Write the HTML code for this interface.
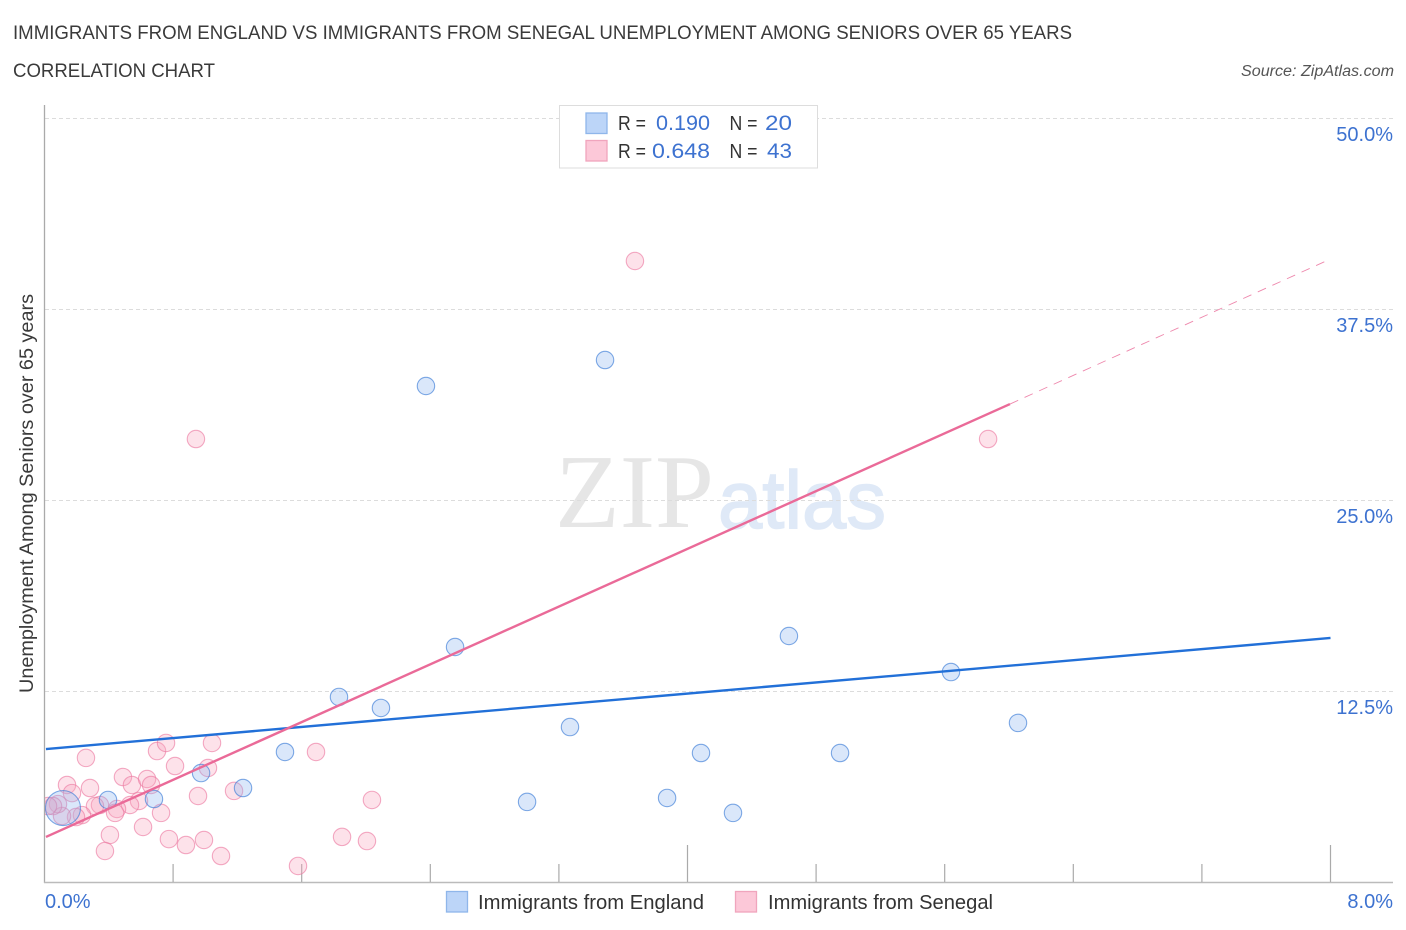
<!DOCTYPE html>
<html lang="en">
<head>
<meta charset="utf-8">
<title>Immigrants from England vs Immigrants from Senegal Unemployment Among Seniors over 65 years</title>
<style>
html,body{margin:0;padding:0;background:#fff;width:1406px;height:930px;overflow:hidden}
svg{display:block;font-family:"Liberation Sans",sans-serif}
</style>
</head>
<body>
<svg id="chart" width="1406" height="930" viewBox="0 0 1406 930" xmlns="http://www.w3.org/2000/svg">
  <defs>
    <clipPath id="plot-clip"><rect x="45" y="100" width="1350" height="782"/></clipPath>
  </defs>
  <text x="13" y="39" font-size="19" fill="#3a3a3a" textLength="1059" lengthAdjust="spacingAndGlyphs">IMMIGRANTS FROM ENGLAND VS IMMIGRANTS FROM SENEGAL UNEMPLOYMENT AMONG SENIORS OVER 65 YEARS</text>
  <text x="13" y="77" font-size="19" fill="#3a3a3a" textLength="202" lengthAdjust="spacingAndGlyphs">CORRELATION CHART</text>
  <text x="1394" y="76" font-size="15.5" font-style="italic" fill="#555" text-anchor="end" textLength="153" lengthAdjust="spacingAndGlyphs">Source: ZipAtlas.com</text>

  <g>
    <text x="555" y="527" font-family="'Liberation Serif',serif" font-size="105" fill="#e6e6e6" textLength="159" lengthAdjust="spacingAndGlyphs">ZIP</text>
    <text x="718" y="528" font-family="'Liberation Sans',sans-serif" font-size="82" fill="#dfe9f7" stroke="#dfe9f7" stroke-width="1.5" textLength="168" lengthAdjust="spacingAndGlyphs">atlas</text>
  </g>

  <g id="grid"></g>
  <g id="axes"></g>
  <g clip-path="url(#plot-clip)">
    <g id="senegal-points"></g>
    <g id="england-points"></g>
  </g>
  <g id="trends"></g>

  <text transform="translate(33,493.5) rotate(-90)" font-size="19" fill="#3a3a3a" text-anchor="middle" textLength="399" lengthAdjust="spacingAndGlyphs">Unemployment Among Seniors over 65 years</text>

  <g>
    <rect x="559.5" y="105.5" width="258" height="62.5" fill="#fff" stroke="#ddd" stroke-width="1"/>
    <rect x="586" y="113" width="21" height="20.5" fill="#bcd5f8" stroke="#8fb6ea" stroke-width="1.3"/>
    <rect x="586" y="140.5" width="21" height="20.5" fill="#fcc8d8" stroke="#f0a5bd" stroke-width="1.3"/>
    <text x="618" y="130" font-size="20" fill="#333" textLength="28" lengthAdjust="spacingAndGlyphs">R =</text>
    <text x="656" y="130" font-size="21" fill="#3d72d0" textLength="54" lengthAdjust="spacingAndGlyphs">0.190</text>
    <text x="729.5" y="130" font-size="20" fill="#333" textLength="28" lengthAdjust="spacingAndGlyphs">N =</text>
    <text x="765" y="130" font-size="21" fill="#3d72d0" textLength="27" lengthAdjust="spacingAndGlyphs">20</text>
    <text x="618" y="158" font-size="20" fill="#333" textLength="28" lengthAdjust="spacingAndGlyphs">R =</text>
    <text x="652" y="158" font-size="21" fill="#3d72d0" textLength="58" lengthAdjust="spacingAndGlyphs">0.648</text>
    <text x="729.5" y="158" font-size="20" fill="#333" textLength="28" lengthAdjust="spacingAndGlyphs">N =</text>
    <text x="767" y="158" font-size="21" fill="#3d72d0" textLength="25" lengthAdjust="spacingAndGlyphs">43</text>
  </g>

  <g>
    <rect x="446.5" y="891.5" width="21" height="20.5" fill="#bcd5f8" stroke="#8fb6ea" stroke-width="1.3"/>
    <text x="478" y="909" font-size="20" fill="#333" textLength="226" lengthAdjust="spacingAndGlyphs">Immigrants from England</text>
    <rect x="735.5" y="891.5" width="21" height="20.5" fill="#fcc8d8" stroke="#f0a5bd" stroke-width="1.3"/>
    <text x="768" y="909" font-size="20" fill="#333" textLength="225" lengthAdjust="spacingAndGlyphs">Immigrants from Senegal</text>
  </g>
</svg>
<script>
const xTickValues = [0.8, 1.6, 2.4, 3.2, 4.0, 4.8, 5.6, 6.4, 7.2, 8.0];
const xMajorTickValues = [4.0, 8.0];
const xEdgeLabels = [0, 8];
const yTickValues = [12.5, 25, 37.5, 50];

const englandX = [2.373, 3.487, 4.631, 5.639, 6.056, 4.949, 4.283, 4.084, 3.873, 3.269, 3.002, 2.554, 2.093, 1.832, 1.496, 1.235, 0.974, 0.681, 0.395, 0.115];
const englandY = [32.46, 34.16, 16.10, 13.74, 10.41, 8.44, 4.52, 8.44, 5.50, 10.14, 5.24, 15.38, 11.39, 12.11, 8.51, 6.15, 7.13, 5.43, 5.37, 4.84];

const senegalX = [3.673, 0.942, 5.870, 1.689, 2.037, 1.851, 2.006, 1.577, 0.258, 0.140, 0.171, 0.283, 0.488, 0.544, 0.638, 0.663, 0.812, 0.700, 0.756, 1.042, 1.017, 0.955, 1.179, 0.725, 0.613, 0.407, 0.376, 0.774, 0.880, 0.992, 1.098, 0.588, 0.532, 0.451, 0.439, 0.345, 0.314, 0.233, 0.196, 0.109, 0.084, 0.053, 0.022];
const senegalY = [40.64, 28.99, 28.99, 8.51, 5.37, 2.95, 2.68, 1.05, 8.12, 6.35, 5.82, 6.15, 6.87, 6.35, 6.74, 6.35, 7.59, 8.57, 9.10, 9.10, 7.46, 5.63, 5.96, 4.52, 3.60, 3.08, 2.03, 2.81, 2.42, 2.75, 1.70, 5.30, 5.04, 4.78, 4.52, 5.04, 4.97, 4.38, 4.25, 4.32, 5.10, 4.97, 4.97];

const englandTrendX = [0.009, 8.0];
const englandTrendY = [8.70, 15.97];
const senegalTrendX = [0.009, 6.006];
const senegalTrendY = [2.95, 31.28];
const senegalProjectionX = [6.006, 8.0];
const senegalProjectionY = [31.28, 40.77];

function xScale(v) { return 44.5 + v * 160.75; }
function yScale(v) { return 882 - v * 15.28; }

const NS = 'http://www.w3.org/2000/svg';
function make(tag, parent, props) {
  const el = document.createElementNS(NS, tag);
  for (const k in props) el.setAttribute(k, props[k]);
  document.getElementById(parent).appendChild(el);
  return el;
}
function pct(v) { return v.toFixed(1) + '%'; }

yTickValues.forEach(function (v) {
  const gy = Math.round(yScale(v)) + 0.5;
  const line = make('line', 'grid', { x1: 45, x2: 1393, y1: gy, y2: gy, stroke: '#dcdcdc', 'stroke-width': 1, 'stroke-dasharray': '4 3' });
  
  
  const label = make('text', 'axes', { x: 1393, y: yScale(v) + 23, 'font-size': 20, fill: '#3d72d0', 'text-anchor': 'end' });
  label.textContent = pct(v);
  
  
});

const yAxis = make('line', 'axes', { x1: 44.5, x2: 44.5, y1: 105, y2: 883, stroke: '#aaa', 'stroke-width': 1.3 });


const xAxis = make('line', 'axes', { x1: 44, x2: 1393, y1: 882.5, y2: 882.5, stroke: '#bbb', 'stroke-width': 1.6 });



xTickValues.forEach(function (v) {
  const top = xMajorTickValues.indexOf(v) >= 0 ? 845 : 864;
  const tick = make('line', 'axes', { x1: xScale(v), x2: xScale(v), y1: top, y2: 882, stroke: '#aaa', 'stroke-width': 1.2 });
  
  
});

xEdgeLabels.forEach(function (v, i) {
  const label = make('text', 'axes', { x: i === 0 ? 45 : 1393, y: 908, 'font-size': 20, fill: '#3d72d0', 'text-anchor': i === 0 ? 'start' : 'end' });
  label.textContent = pct(v);
  
  
});

senegalX.forEach(function (v, i) {
  const dot = make('circle', 'senegal-points', { cx: xScale(v), cy: yScale(senegalY[i]), r: 8.7, fill: 'rgba(248,165,190,0.32)', stroke: 'rgba(236,120,160,0.62)', 'stroke-width': 1.1 });
  
  
});

const englandLargestIndex = englandX.length - 1;
englandX.forEach(function (v, i) {
  const dot = make('circle', 'england-points', { cx: xScale(v), cy: yScale(englandY[i]), r: i === englandLargestIndex ? 17.5 : 8.7, fill: 'rgba(140,180,240,0.32)', stroke: 'rgba(60,125,215,0.65)', 'stroke-width': 1.1 });
  
  
});

const blueLine = make('line', 'trends', { x1: xScale(englandTrendX[0]), y1: yScale(englandTrendY[0]), x2: xScale(englandTrendX[1]), y2: yScale(englandTrendY[1]), stroke: '#2270d8', 'stroke-width': 2.4 });


const pinkLine = make('line', 'trends', { x1: xScale(senegalTrendX[0]), y1: yScale(senegalTrendY[0]), x2: xScale(senegalTrendX[1]), y2: yScale(senegalTrendY[1]), stroke: '#ea6a98', 'stroke-width': 2.4 });


const pinkDash = make('line', 'trends', { x1: xScale(senegalProjectionX[0]), y1: yScale(senegalProjectionY[0]), x2: xScale(senegalProjectionX[1]), y2: yScale(senegalProjectionY[1]), stroke: '#ea6a98', 'stroke-width': 0.9, 'stroke-dasharray': '9 7', opacity: 0.8 });


</script>
</body>
</html>
